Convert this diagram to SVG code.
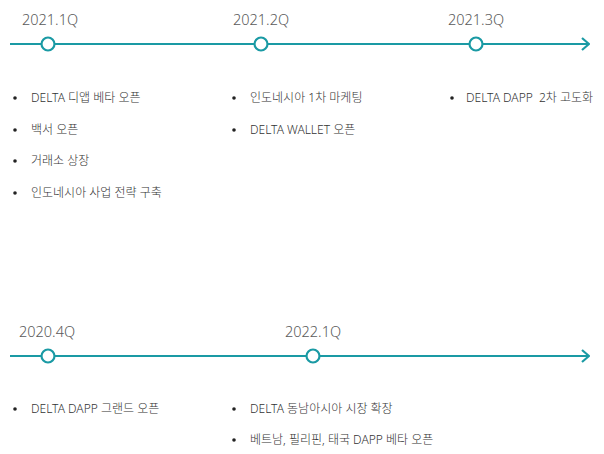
<svg xmlns="http://www.w3.org/2000/svg" width="604" height="454" viewBox="0 0 604 454">
<defs>
<style>
.line{stroke:#1a9aa4;stroke-width:2.2;fill:none}
.dot{fill:#fff;stroke:#1a9aa4;stroke-width:2.2}
.q{font-family:"Noto Sans","Noto Sans CJK KR",sans-serif;font-size:14.5px;font-weight:300;fill:#5a5a5a}
.t{font-family:"Noto Sans","Noto Sans CJK KR",sans-serif;font-size:12px;font-weight:300;fill:#333}
.b{fill:#222}
</style>
<marker id="arr" viewBox="0 0 10 14" refX="9" refY="7" markerWidth="10" markerHeight="14" markerUnits="userSpaceOnUse" orient="auto">
<path d="M2,1 L9,7 L2,13" fill="none" stroke="#1a9aa4" stroke-width="2.2"/>
</marker>
</defs>
<rect width="604" height="454" fill="#fff"/>
<g id="connectors">
<line class="line" x1="10" y1="44" x2="589" y2="44" marker-end="url(#arr)"/>
<line class="line" x1="10" y1="356" x2="589" y2="356" marker-end="url(#arr)"/>
</g>
<g id="q2021-1">
<text class="q" x="22" y="25">2021.1Q</text>
<circle class="dot" cx="48" cy="44" r="6.5"/>
<circle class="b" cx="15" cy="98" r="1.8"/><text class="t" x="31" y="102">DELTA 디앱 베타 오픈</text>
<circle class="b" cx="15" cy="130" r="1.8"/><text class="t" x="31" y="134">백서 오픈</text>
<circle class="b" cx="15" cy="161" r="1.8"/><text class="t" x="31" y="165">거래소 상장</text>
<circle class="b" cx="15" cy="193" r="1.8"/><text class="t" x="31" y="197">인도네시아 사업 전략 구축</text>
</g>
<g id="q2021-2">
<text class="q" x="233" y="25">2021.2Q</text>
<circle class="dot" cx="261" cy="44" r="6.5"/>
<circle class="b" cx="234" cy="98" r="1.8"/><text class="t" x="250" y="102">인도네시아 1차 마케팅</text>
<circle class="b" cx="234" cy="130" r="1.8"/><text class="t" x="250" y="134">DELTA WALLET 오픈</text>
</g>
<g id="q2021-3">
<text class="q" x="448" y="25">2021.3Q</text>
<circle class="dot" cx="476" cy="44" r="6.5"/>
<circle class="b" cx="452" cy="98" r="1.8"/><text class="t" x="466" y="102" xml:space="preserve">DELTA DAPP  2차 고도화</text>
</g>
<g id="q2020-4">
<text class="q" x="19" y="337">2020.4Q</text>
<circle class="dot" cx="48" cy="356" r="6.5"/>
<circle class="b" cx="15" cy="409" r="1.8"/><text class="t" x="31" y="413">DELTA DAPP 그랜드 오픈</text>
</g>
<g id="q2022-1">
<text class="q" x="285" y="337">2022.1Q</text>
<circle class="dot" cx="313" cy="356" r="6.5"/>
<circle class="b" cx="234" cy="409" r="1.8"/><text class="t" x="250" y="413">DELTA 동남아시아 시장 확장</text>
<circle class="b" cx="234" cy="440" r="1.8"/><text class="t" x="250" y="444">베트남, 필리핀, 태국 DAPP 베타 오픈</text>
</g>
</svg>
